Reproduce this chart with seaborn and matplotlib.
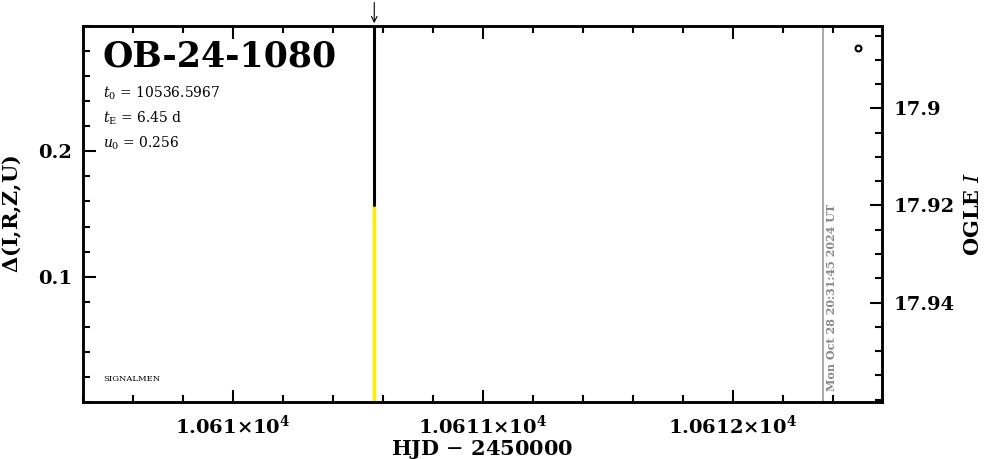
import numpy as np
import pandas as pd
import matplotlib.pyplot as plt
from matplotlib.ticker import MultipleLocator, FixedLocator, FixedFormatter
import seaborn as sns

# event info
event_name = 'OB-24-1080'
t0_text = '10536.5967'
tE_text = '6.45'
u0_text = '0.256'
stamp = 'Mon Oct 28 20:31:45 2024 UT'

# x range / ticks (HJD - 2450000)
x_limits = [10609.4, 10612.596]
x_major = [10610, 10611, 10612]
x_labels = [r'$\mathbf{1.061{\times}10^4}$', r'$\mathbf{1.0611{\times}10^4}$', r'$\mathbf{1.0612{\times}10^4}$']

# left axis: delta
delta_limits = [0.0, 0.3]
delta_ticks = [0.1, 0.2]
delta_labels = ['0.1', '0.2']

# right axis: OGLE I magnitude
mag_limits = [17.9605, 17.883]
mag_ticks = [17.9, 17.92, 17.94]
mag_labels = ['17.9', '17.92', '17.94']

# marker lines
peak_hjd = 10610.565
yellow_seg = [0.0, 0.157]
black_seg = [0.157, 0.3]
now_hjd = 10612.36

# OGLE data point
ogle_hjd = [10612.5]
ogle_mag = [17.8875]

sns.set_style('ticks')
plt.rcParams['font.family'] = ['DejaVu Serif']
plt.rcParams['mathtext.fontset'] = 'dejavuserif'
for k in ['text.color', 'axes.labelcolor', 'xtick.color', 'ytick.color', 'axes.edgecolor']:
    plt.rcParams[k] = 'black'

fig = plt.figure(figsize=(9.86, 4.59), dpi=100)
ax = fig.add_axes([0.0842, 0.1242, 0.8103, 0.8192])
ax2 = ax.twinx()

yellow_df = pd.DataFrame({'x': [peak_hjd, peak_hjd], 'y': yellow_seg})
black_df = pd.DataFrame({'x': [peak_hjd, peak_hjd], 'y': black_seg})
sns.lineplot(data=yellow_df, x='x', y='y', ax=ax, color='#ffee00', lw=2.5, sort=False, estimator=None)
sns.lineplot(data=black_df, x='x', y='y', ax=ax, color='black', lw=2.2, sort=False, estimator=None)
ax.axvline(now_hjd, color='#999999', lw=1.2)

sns.scatterplot(x=ogle_hjd, y=ogle_mag, ax=ax2, s=18, facecolor='white', edgecolor='black', linewidth=1.5, zorder=5)

ax.set_xlim(x_limits)
ax.set_ylim(delta_limits)
ax2.set_ylim(mag_limits)

ax.xaxis.set_major_locator(FixedLocator(x_major))
ax.xaxis.set_major_formatter(FixedFormatter(x_labels))
ax.xaxis.set_minor_locator(MultipleLocator(0.2))
ax.yaxis.set_major_locator(FixedLocator(delta_ticks))
ax.yaxis.set_major_formatter(FixedFormatter(delta_labels))
ax.yaxis.set_minor_locator(MultipleLocator(0.02))
ax2.yaxis.set_major_locator(FixedLocator(mag_ticks))
ax2.yaxis.set_major_formatter(FixedFormatter(mag_labels))
ax2.yaxis.set_minor_locator(MultipleLocator(0.005))

ax.tick_params(axis='x', which='both', direction='in', top=True, bottom=True, width=1.5, labelsize=14, pad=9)
ax.tick_params(axis='y', which='both', direction='in', left=True, right=False, width=1.5, labelsize=14, pad=8)
ax.tick_params(which='major', length=9)
ax.tick_params(which='minor', length=5)
ax2.tick_params(axis='y', which='both', direction='in', right=True, left=False, width=1.5, labelsize=14, pad=8)
ax2.tick_params(which='major', length=9)
ax2.tick_params(which='minor', length=5)
for lab in ax.get_yticklabels() + ax2.get_yticklabels():
    lab.set_fontweight('bold')

for sp in list(ax.spines.values()) + list(ax2.spines.values()):
    sp.set_linewidth(1.8)
    sp.set_color('black')

ax.set_xlabel('HJD $-$ 2450000', fontsize=15, fontweight='bold', labelpad=0)
ax.set_ylabel(r'$\mathbf{\Delta}$(I,R,Z,U)', fontsize=15, fontweight='bold', labelpad=10)
ax2.set_ylabel(r'OGLE $\mathit{I}$', fontsize=15, fontweight='bold', labelpad=6)

# labels in the plot
ax.text(0.025, 0.965, event_name, transform=ax.transAxes, fontsize=25, fontweight='bold', va='top', ha='left')
ax.text(0.025, 0.845, r'$t_0$ = ' + t0_text, transform=ax.transAxes, fontsize=10, va='top')
ax.text(0.025, 0.778, r'$t_{\rm E}$ = ' + tE_text + ' d', transform=ax.transAxes, fontsize=10, va='top')
ax.text(0.025, 0.711, r'$u_0$ = ' + u0_text, transform=ax.transAxes, fontsize=10, va='top')
ax.text(0.025, 0.06, 'SIGNALMEN', transform=ax.transAxes, fontsize=6, va='center')
ax.text(now_hjd + 0.035, 0.03, stamp, rotation=90, color='#888888', fontsize=8, fontweight='bold',
        va='bottom', ha='center', transform=ax.get_xaxis_transform())

# arrow marking the peak
ax.annotate('', xy=(peak_hjd, 1.0), xytext=(peak_hjd, 1.07), xycoords=('data', 'axes fraction'),
            arrowprops=dict(arrowstyle='->', color='black', lw=0.8))

fig.savefig('out.png', dpi=100)
